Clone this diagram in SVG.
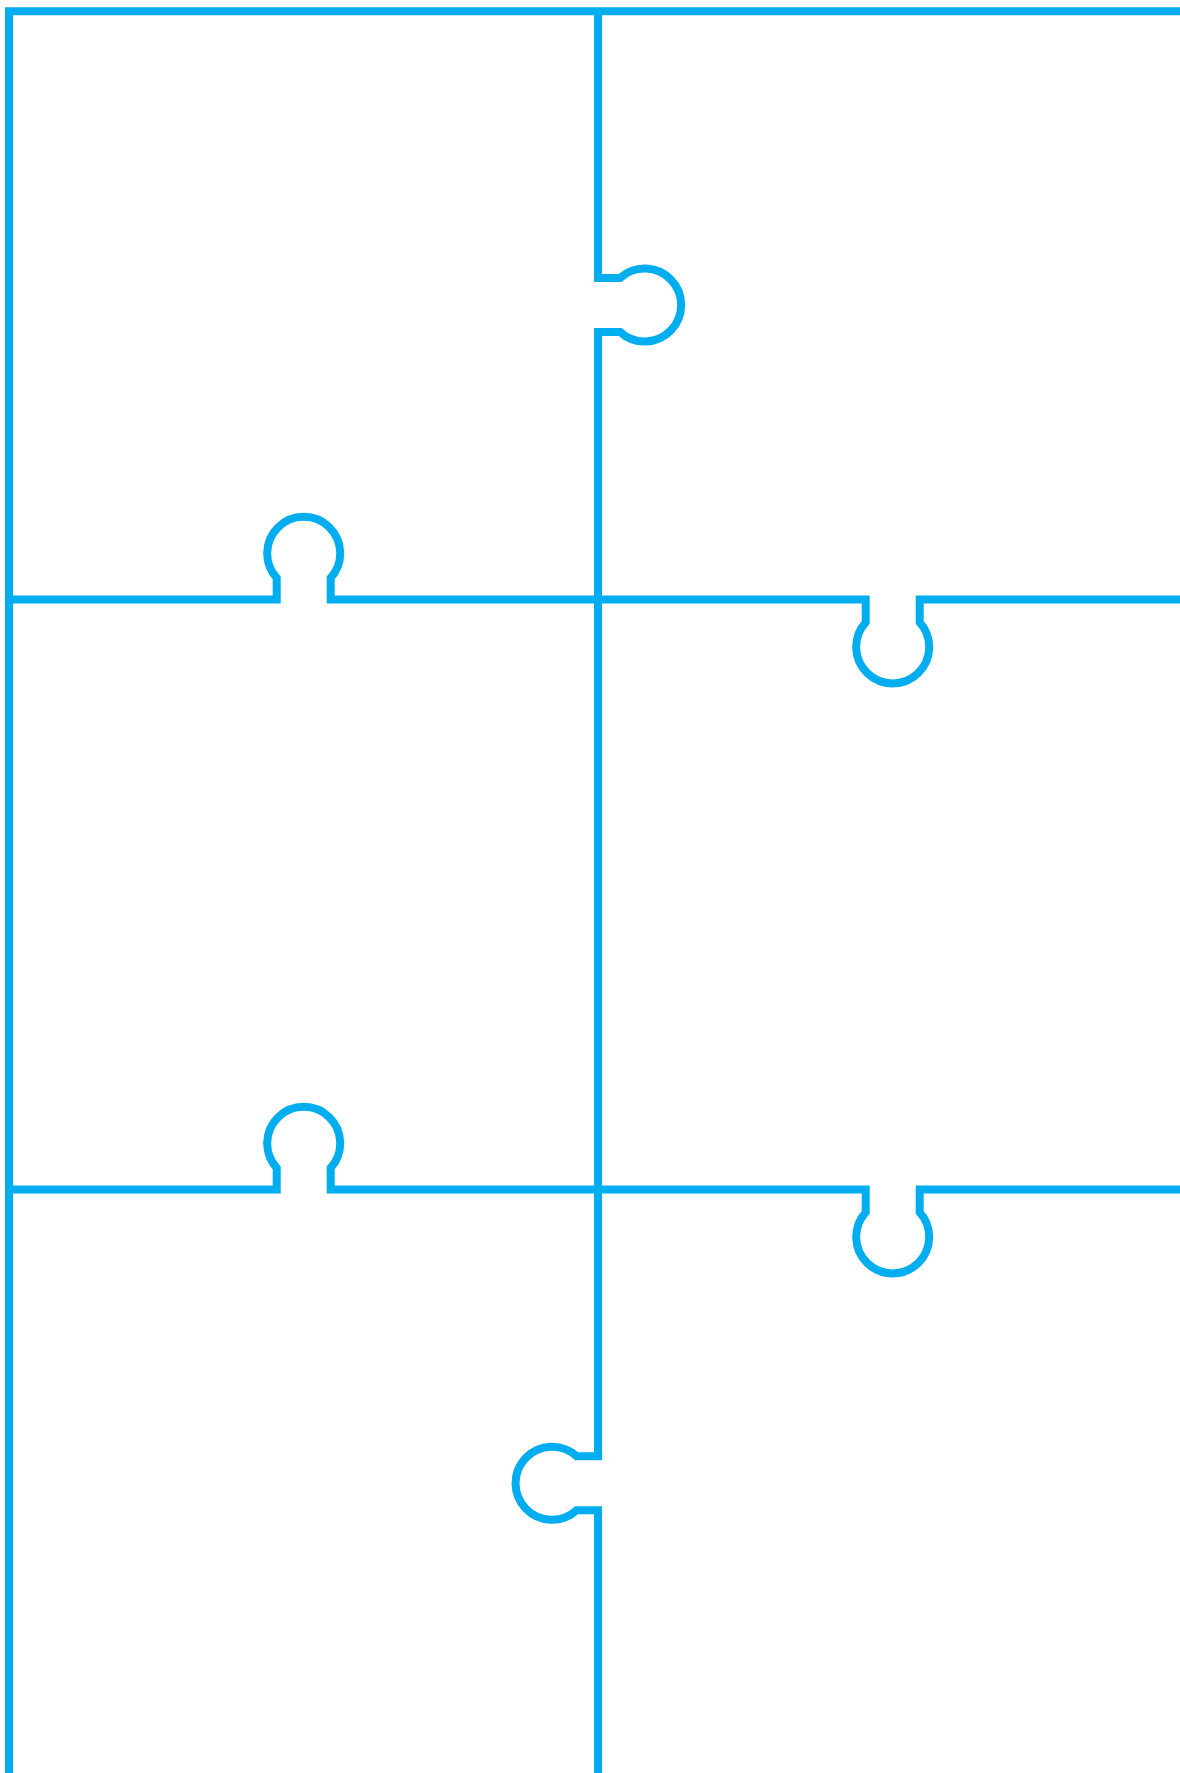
<svg xmlns="http://www.w3.org/2000/svg" width="1180" height="1773" viewBox="0 0 1180 1773">
<style>
.cut{fill:none;stroke:#00AEEF;stroke-width:8;stroke-linejoin:miter;stroke-linecap:butt}
</style>
<rect width="1180" height="1773" fill="#ffffff"/>
<g id="puzzle">
<path id="frame" class="cut" d="M9,1773 V11.3 H1180"/>
<path id="middle" class="cut" d="M598,11.3 V278 H620.1 A36.5,36.5 0 1 1 620.1,332 H598 V1456.3 H576.6 A36.5,36.5 0 1 0 576.6,1510.3 H598 V1773"/>
<path id="row1" class="cut" d="M9,599.5 H276.7 V577.9 A36.5,36.5 0 1 1 330.7,577.9 V599.5 H865.7 V622.4 A36.5,36.5 0 1 0 919.7,622.4 V599.5 H1180"/>
<path id="row2" class="cut" d="M9,1189.5 H276.7 V1167.9 A36.5,36.5 0 1 1 330.7,1167.9 V1189.5 H865.7 V1212.4 A36.5,36.5 0 1 0 919.7,1212.4 V1189.5 H1180"/>
</g>
</svg>
